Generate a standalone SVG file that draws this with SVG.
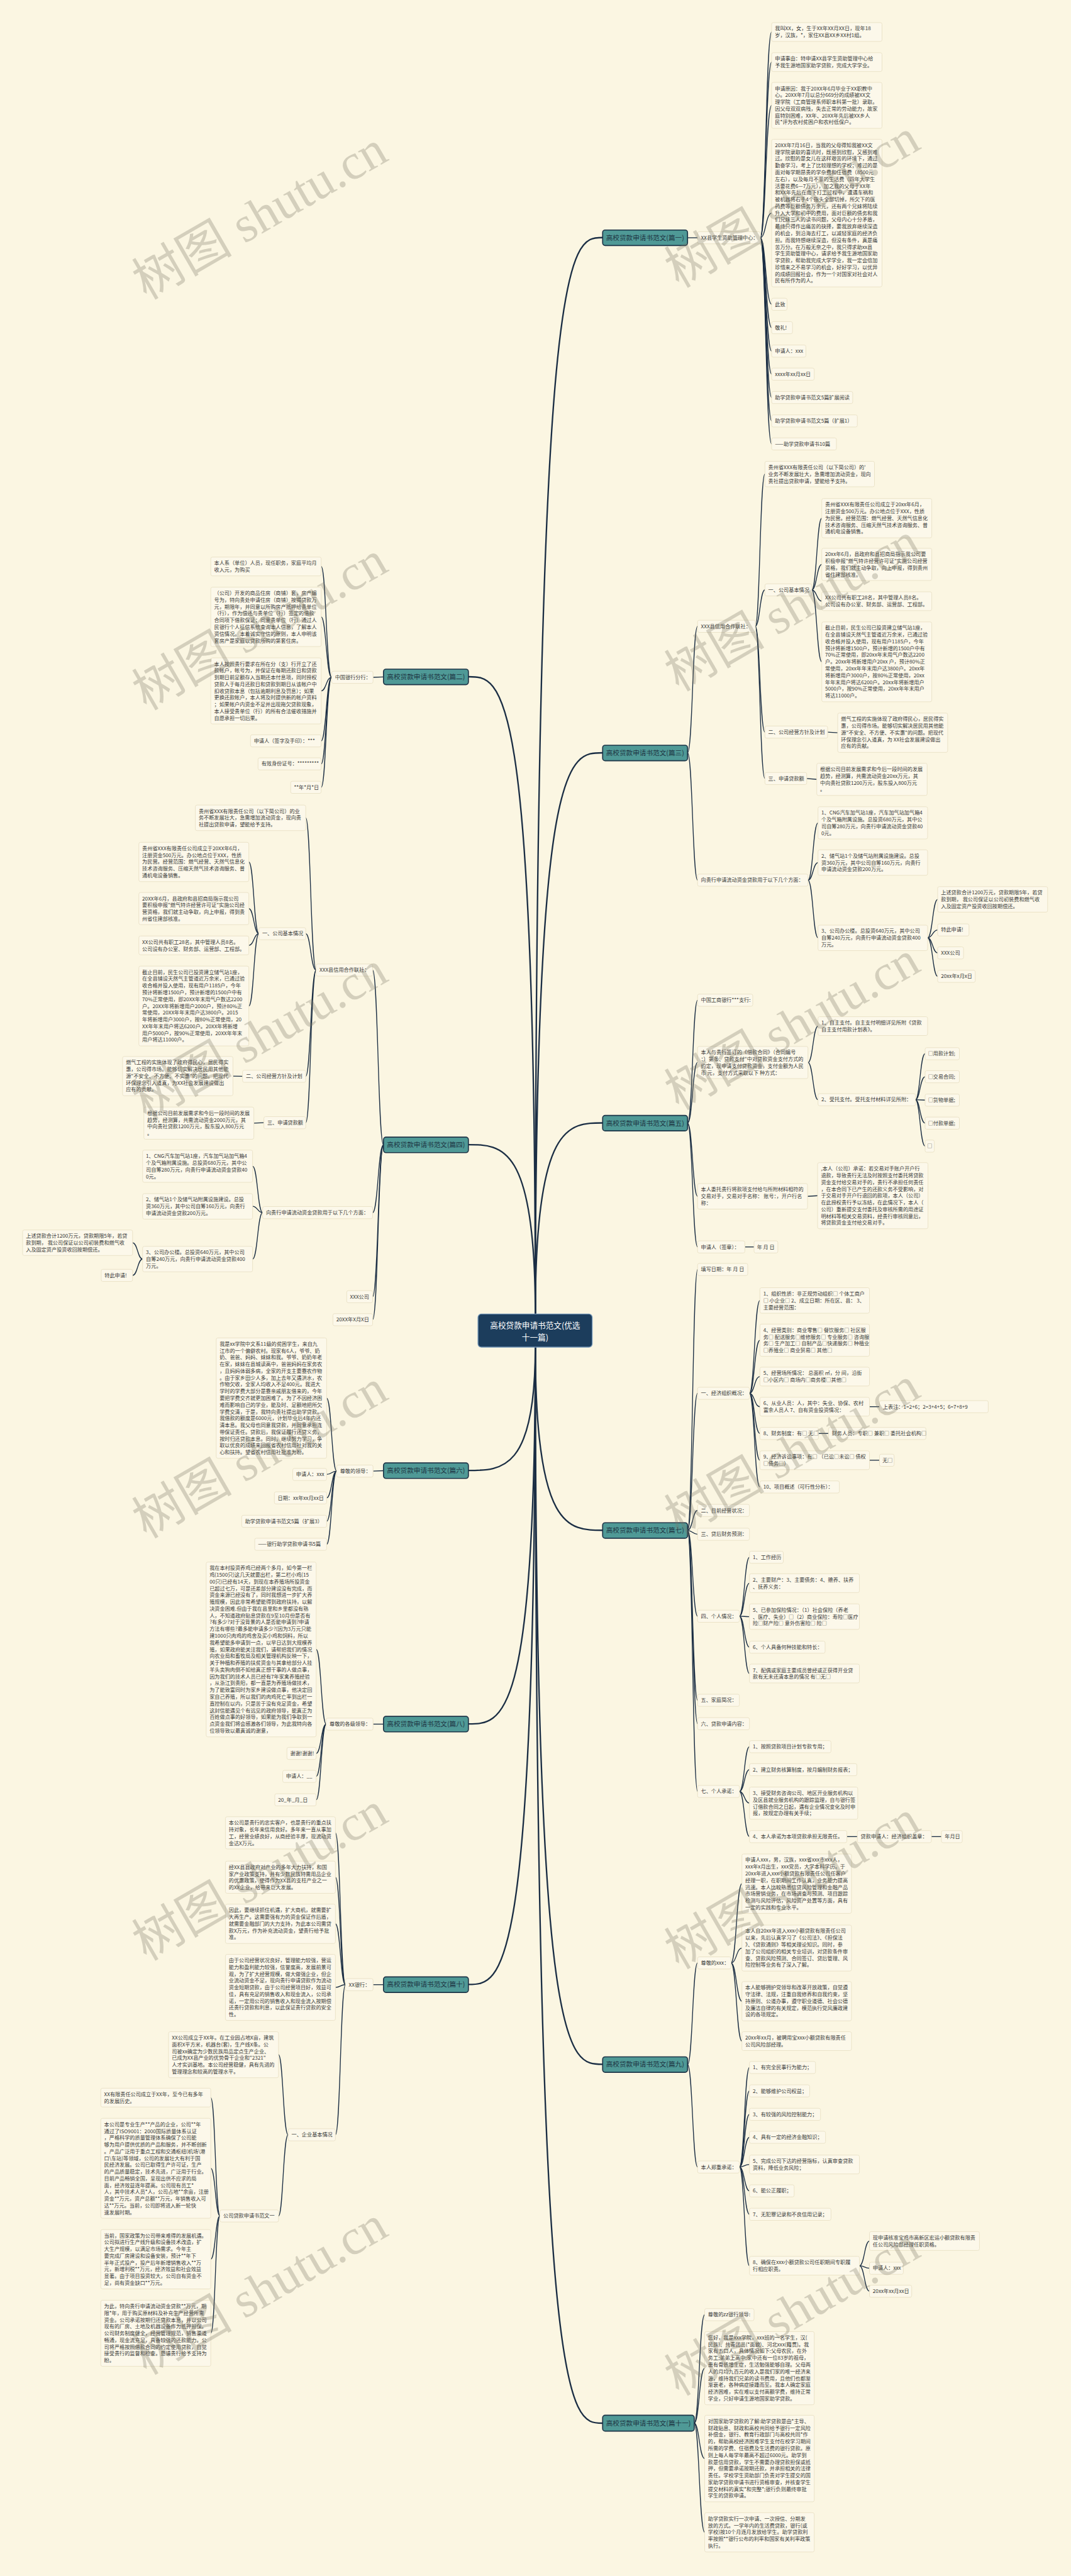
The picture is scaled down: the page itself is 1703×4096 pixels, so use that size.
<svg xmlns="http://www.w3.org/2000/svg" width="1703" height="4096" viewBox="0 0 1703 4096">
<style>
.bg{fill:#fbf6e2}
text{font-family:'Noto Sans CJK SC','Liberation Sans',sans-serif}
.b rect{fill:#fcf8ea;stroke:#ebe3c8;stroke-width:1.5}
.b text{font-size:12.3px;fill:#383838}
.m rect{fill:#4f9996;stroke:#1d3447;stroke-width:2.5}
.m text{font-size:16px;fill:#1d3442;text-anchor:middle}
.ct rect{fill:#1c3d5c;stroke:#6f93b5;stroke-width:2}
.ct text{font-size:19px;fill:#ffffff;text-anchor:middle}
.lk path{fill:none;stroke:#1b2e44;stroke-width:2}
.lk path.mk{stroke-width:3.5}
.wm text{font-family:'Liberation Serif','Noto Sans CJK SC',serif;font-size:120px;fill:#7c7866;opacity:.3}
</style>
<rect class="bg" width="1703" height="4096"/>
<g transform="scale(0.665)">
<g id="connectors" class="lk">
<path class="mk" d="M1280,3142 C1280,568 1360,568 1441,568"/>
<path class="mk" d="M1280,3142 C1280,1800 1360,1800 1441,1800"/>
<path class="mk" d="M1280,3142 C1280,2685 1360,2685 1441,2685"/>
<path class="mk" d="M1280,3142 C1280,1618 1200,1618 1120,1618"/>
<path class="mk" d="M1280,3142 C1280,2737 1200,2737 1120,2737"/>
<path class="mk" d="M1280,3221 C1280,3516 1200,3516 1120,3516"/>
<path class="mk" d="M1280,3221 C1280,3659 1360,3659 1441,3659"/>
<path class="mk" d="M1280,3221 C1280,4122 1200,4122 1120,4122"/>
<path class="mk" d="M1280,3221 C1280,4936 1360,4936 1441,4936"/>
<path class="mk" d="M1280,3221 C1280,4745 1200,4745 1120,4745"/>
<path class="mk" d="M1280,3221 C1280,5794 1360,5794 1441,5794"/>
<path d="M1644,568.5 L1668,568.5"/>
<path d="M1818,568.5 C1831,568.5 1831,76.5 1845,76.5"/>
<path d="M1818,568.5 C1831,568.5 1831,148.5 1845,148.5"/>
<path d="M1818,568.5 C1831,568.5 1831,252 1845,252"/>
<path d="M1818,568.5 C1831,568.5 1831,509.5 1845,509.5"/>
<path d="M1818,568.5 C1831,568.5 1831,727.5 1845,727.5"/>
<path d="M1818,568.5 C1831,568.5 1831,783.5 1845,783.5"/>
<path d="M1818,568.5 C1831,568.5 1831,839.5 1845,839.5"/>
<path d="M1818,568.5 C1831,568.5 1831,894.5 1845,894.5"/>
<path d="M1818,568.5 C1831,568.5 1831,950.5 1845,950.5"/>
<path d="M1818,568.5 C1831,568.5 1831,1006.5 1845,1006.5"/>
<path d="M1818,568.5 C1831,568.5 1831,1061.5 1845,1061.5"/>
<path d="M1644,1800 C1656,1800 1656,1497.5 1668,1497.5"/>
<path d="M1644,1800 C1656,1800 1656,2104.5 1668,2104.5"/>
<path d="M1806,1497.5 C1817,1497.5 1817,1133.5 1829,1133.5"/>
<path d="M1806,1497.5 C1817,1497.5 1817,1410.5 1829,1410.5"/>
<path d="M1806,1497.5 C1817,1497.5 1817,1750.5 1829,1750.5"/>
<path d="M1806,1497.5 C1817,1497.5 1817,1861.5 1829,1861.5"/>
<path d="M1941,1410.5 C1953,1410.5 1953,1239 1965,1239"/>
<path d="M1941,1410.5 C1953,1410.5 1953,1349.5 1965,1349.5"/>
<path d="M1941,1410.5 C1953,1410.5 1953,1437.5 1965,1437.5"/>
<path d="M1941,1410.5 C1953,1410.5 1953,1582.5 1965,1582.5"/>
<path d="M1979,1750.5 L2003,1752"/>
<path d="M1929,1861.5 L1953,1863.5"/>
<path d="M1932,2104.5 C1944,2104.5 1944,1967.5 1956,1967.5"/>
<path d="M1932,2104.5 C1944,2104.5 1944,2062.5 1956,2062.5"/>
<path d="M1932,2104.5 C1944,2104.5 1944,2242.5 1956,2242.5"/>
<path d="M2218,2242.5 C2230,2242.5 2230,2150.5 2242,2150.5"/>
<path d="M2218,2242.5 C2230,2242.5 2230,2223.5 2242,2223.5"/>
<path d="M2218,2242.5 C2230,2242.5 2230,2278.5 2242,2278.5"/>
<path d="M2218,2242.5 C2230,2242.5 2230,2334.5 2242,2334.5"/>
<path d="M1644,2685.5 C1656,2685.5 1656,2391.5 1668,2391.5"/>
<path d="M1644,2685.5 C1656,2685.5 1656,2540.5 1668,2540.5"/>
<path d="M1644,2685.5 C1656,2685.5 1656,2860.5 1668,2860.5"/>
<path d="M1644,2685.5 C1656,2685.5 1656,2981.5 1668,2981.5"/>
<path d="M1932,2540.5 C1944,2540.5 1944,2453.5 1956,2453.5"/>
<path d="M1932,2540.5 C1944,2540.5 1944,2629.5 1956,2629.5"/>
<path d="M2189,2629.5 C2200,2629.5 2200,2519.5 2212,2519.5"/>
<path d="M2189,2629.5 C2200,2629.5 2200,2574.5 2212,2574.5"/>
<path d="M2189,2629.5 L2212,2630.5"/>
<path d="M2189,2629.5 C2200,2629.5 2200,2685.5 2212,2685.5"/>
<path d="M2189,2629.5 C2200,2629.5 2200,2740.5 2212,2740.5"/>
<path d="M1931,2860.5 L1955,2859"/>
<path d="M1781,2981.5 L1803,2981.5"/>
<path d="M1644,3659.5 C1656,3659.5 1656,3035.5 1668,3035.5"/>
<path d="M1644,3659.5 C1656,3659.5 1656,3331.5 1668,3331.5"/>
<path d="M1644,3659.5 C1656,3659.5 1656,3611.5 1668,3611.5"/>
<path d="M1644,3659.5 C1656,3659.5 1656,3668.5 1668,3668.5"/>
<path d="M1644,3659.5 C1656,3659.5 1656,3864.5 1668,3864.5"/>
<path d="M1644,3659.5 C1656,3659.5 1656,4065.5 1668,4065.5"/>
<path d="M1644,3659.5 C1656,3659.5 1656,4121.5 1668,4121.5"/>
<path d="M1644,3659.5 C1656,3659.5 1656,4283.5 1668,4283.5"/>
<path d="M1792,3331.5 C1804,3331.5 1804,3109.5 1817,3109.5"/>
<path d="M1792,3331.5 C1804,3331.5 1804,3204.5 1817,3204.5"/>
<path d="M1792,3331.5 C1804,3331.5 1804,3291.5 1817,3291.5"/>
<path d="M1792,3331.5 C1804,3331.5 1804,3363.5 1817,3363.5"/>
<path d="M1792,3331.5 C1804,3331.5 1804,3427.5 1817,3427.5"/>
<path d="M1792,3331.5 C1804,3331.5 1804,3491.5 1817,3491.5"/>
<path d="M1792,3331.5 C1804,3331.5 1804,3555.5 1817,3555.5"/>
<path d="M2079,3363.5 L2103,3363.5"/>
<path d="M1957,3427.5 L1981,3427.5"/>
<path d="M2079,3491.5 L2103,3491.5"/>
<path d="M1768,3864.5 C1780,3864.5 1780,3723.5 1792,3723.5"/>
<path d="M1768,3864.5 C1780,3864.5 1780,3785.5 1792,3785.5"/>
<path d="M1768,3864.5 C1780,3864.5 1780,3865.5 1792,3865.5"/>
<path d="M1768,3864.5 C1780,3864.5 1780,3938.5 1792,3938.5"/>
<path d="M1768,3864.5 C1780,3864.5 1780,4001.5 1792,4001.5"/>
<path d="M1768,4283.5 C1780,4283.5 1780,4176.5 1792,4176.5"/>
<path d="M1768,4283.5 C1780,4283.5 1780,4231.5 1792,4231.5"/>
<path d="M1768,4283.5 C1780,4283.5 1780,4311.5 1792,4311.5"/>
<path d="M1768,4283.5 C1780,4283.5 1780,4391.5 1792,4391.5"/>
<path d="M2025,4391.5 L2050,4391.5"/>
<path d="M2227,4391.5 L2251,4391.5"/>
<path d="M1644,4936.5 C1656,4936.5 1656,4693.5 1668,4693.5"/>
<path d="M1644,4936.5 C1656,4936.5 1656,5181.5 1668,5181.5"/>
<path d="M1748,4693.5 C1761,4693.5 1761,4504 1774,4504"/>
<path d="M1748,4693.5 C1761,4693.5 1761,4658 1774,4658"/>
<path d="M1748,4693.5 C1761,4693.5 1761,4785 1774,4785"/>
<path d="M1748,4693.5 C1761,4693.5 1761,4880.5 1774,4880.5"/>
<path d="M1768,5181.5 C1780,5181.5 1780,4943.5 1792,4943.5"/>
<path d="M1768,5181.5 C1780,5181.5 1780,4999.5 1792,4999.5"/>
<path d="M1768,5181.5 C1780,5181.5 1780,5055.5 1792,5055.5"/>
<path d="M1768,5181.5 C1780,5181.5 1780,5110.5 1792,5110.5"/>
<path d="M1768,5181.5 C1780,5181.5 1780,5175.5 1792,5175.5"/>
<path d="M1768,5181.5 C1780,5181.5 1780,5238.5 1792,5238.5"/>
<path d="M1768,5181.5 C1780,5181.5 1780,5294.5 1792,5294.5"/>
<path d="M1768,5181.5 C1780,5181.5 1780,5417.5 1792,5417.5"/>
<path d="M2055,5417.5 C2067,5417.5 2067,5358.5 2079,5358.5"/>
<path d="M2055,5417.5 C2067,5417.5 2067,5423.5 2079,5423.5"/>
<path d="M2055,5417.5 C2067,5417.5 2067,5478.5 2079,5478.5"/>
<path d="M1660,5794 C1672,5794 1672,5534.5 1685,5534.5"/>
<path d="M1660,5794 C1672,5794 1672,5662.5 1685,5662.5"/>
<path d="M1660,5794 C1672,5794 1672,5878.5 1685,5878.5"/>
<path d="M1660,5794 C1672,5794 1672,6055 1685,6055"/>
<path d="M917,1618.5 L892,1619.5"/>
<path d="M793,1619.5 C780,1619.5 780,1354.5 768,1354.5"/>
<path d="M793,1619.5 C780,1619.5 780,1475 768,1475"/>
<path d="M793,1619.5 C780,1619.5 780,1652 768,1652"/>
<path d="M793,1619.5 C780,1619.5 780,1771.5 768,1771.5"/>
<path d="M793,1619.5 C780,1619.5 780,1826.5 768,1826.5"/>
<path d="M793,1619.5 C780,1619.5 780,1882.5 768,1882.5"/>
<path d="M917,2737.5 C904,2737.5 904,2319.5 891,2319.5"/>
<path d="M917,2737.5 C904,2737.5 904,2899.5 891,2899.5"/>
<path d="M917,2737.5 C904,2737.5 904,3100.5 891,3100.5"/>
<path d="M917,2737.5 C904,2737.5 904,3155.5 891,3155.5"/>
<path d="M756,2319.5 C743,2319.5 743,1955.5 731,1955.5"/>
<path d="M756,2319.5 C743,2319.5 743,2232.5 731,2232.5"/>
<path d="M756,2319.5 C743,2319.5 743,2573.5 731,2573.5"/>
<path d="M756,2319.5 C743,2319.5 743,2684.5 731,2684.5"/>
<path d="M619,2232.5 C607,2232.5 607,2061 595,2061"/>
<path d="M619,2232.5 C607,2232.5 607,2172.5 595,2172.5"/>
<path d="M619,2232.5 C607,2232.5 607,2260.5 595,2260.5"/>
<path d="M619,2232.5 C607,2232.5 607,2405.5 595,2405.5"/>
<path d="M580,2573.5 L557,2573"/>
<path d="M631,2684.5 L607,2685.5"/>
<path d="M628,2899.5 C616,2899.5 616,2788.5 604,2788.5"/>
<path d="M628,2899.5 C616,2899.5 616,2884.5 604,2884.5"/>
<path d="M628,2899.5 C616,2899.5 616,3010.5 604,3010.5"/>
<path d="M341,3010.5 C329,3010.5 329,2971.5 317,2971.5"/>
<path d="M341,3010.5 C329,3010.5 329,3049.5 317,3049.5"/>
<path d="M917,3516.5 L892,3517.5"/>
<path d="M805,3517.5 C793,3517.5 793,3343 781,3343"/>
<path d="M805,3517.5 C793,3517.5 793,3525.5 781,3525.5"/>
<path d="M805,3517.5 C793,3517.5 793,3581.5 781,3581.5"/>
<path d="M805,3517.5 C793,3517.5 793,3637.5 781,3637.5"/>
<path d="M805,3517.5 C793,3517.5 793,3692.5 781,3692.5"/>
<path d="M917,4122.5 L892,4122.5"/>
<path d="M780,4122.5 C768,4122.5 768,3944 756,3944"/>
<path d="M780,4122.5 C768,4122.5 768,4192.5 756,4192.5"/>
<path d="M780,4122.5 C768,4122.5 768,4247.5 756,4247.5"/>
<path d="M780,4122.5 C768,4122.5 768,4303.5 756,4303.5"/>
<path d="M917,4745.5 L892,4745.5"/>
<path d="M826,4745.5 C814,4745.5 814,4382.5 802,4382.5"/>
<path d="M826,4745.5 C814,4745.5 814,4488.5 802,4488.5"/>
<path d="M826,4745.5 C814,4745.5 814,4600 802,4600"/>
<path d="M826,4745.5 C814,4745.5 814,4752 802,4752"/>
<path d="M826,4745.5 C814,4745.5 814,5104.5 802,5104.5"/>
<path d="M689,5104.5 C677,5104.5 677,4913 666,4913"/>
<path d="M689,5104.5 C677,5104.5 677,5298.5 666,5298.5"/>
<path d="M526,5298.5 C515,5298.5 515,5015.5 504,5015.5"/>
<path d="M526,5298.5 C515,5298.5 515,5184.5 504,5184.5"/>
<path d="M526,5298.5 C515,5298.5 515,5402 504,5402"/>
<path d="M526,5298.5 C515,5298.5 515,5579 504,5579"/>
</g>

<g id="central" class="ct"><rect x="1143" y="3142" width="273" height="79" rx="8"/><text x="1279.5" y="3176">高校贷款申请书范文(优选</text><text x="1279.5" y="3204">十一篇)</text></g>

<g id="p1" class="m"><rect x="1441" y="550" width="203" height="37" rx="6"/><text x="1542.5" y="574">高校贷款申请书范文(篇一)</text></g>
<g id="p2" class="m"><rect x="917" y="1600" width="203" height="37" rx="6"/><text x="1018.5" y="1624">高校贷款申请书范文(篇二)</text></g>
<g id="p3" class="m"><rect x="1441" y="1782" width="203" height="37" rx="6"/><text x="1542.5" y="1806">高校贷款申请书范文(篇三)</text></g>
<g id="p4" class="m"><rect x="917" y="2719" width="203" height="37" rx="6"/><text x="1018.5" y="2743">高校贷款申请书范文(篇四)</text></g>
<g id="p5" class="m"><rect x="1441" y="2667" width="203" height="37" rx="6"/><text x="1542.5" y="2691">高校贷款申请书范文(篇五)</text></g>
<g id="p6" class="m"><rect x="917" y="3498" width="203" height="37" rx="6"/><text x="1018.5" y="3522">高校贷款申请书范文(篇六)</text></g>
<g id="p7" class="m"><rect x="1441" y="3641" width="203" height="37" rx="6"/><text x="1542.5" y="3665">高校贷款申请书范文(篇七)</text></g>
<g id="p8" class="m"><rect x="917" y="4104" width="203" height="37" rx="6"/><text x="1018.5" y="4128">高校贷款申请书范文(篇八)</text></g>
<g id="p9" class="m"><rect x="1441" y="4918" width="203" height="37" rx="6"/><text x="1542.5" y="4942">高校贷款申请书范文(篇九)</text></g>
<g id="p10" class="m"><rect x="917" y="4727" width="203" height="37" rx="6"/><text x="1018.5" y="4751">高校贷款申请书范文(篇十)</text></g>
<g id="p11" class="m"><rect x="1441" y="5775" width="219" height="38" rx="6"/><text x="1550.5" y="5800">高校贷款申请书范文(篇十一)</text></g>

<g id="b1" class="b">
<g id="b1-c"><rect x="1668" y="554" width="150" height="29" rx="4"/><text x="1676" y="572.8">XX县学生资助管理中心：</text></g>
<g id="b1-1"><rect x="1845" y="54" width="264" height="45" rx="4"/><text x="1853" y="72.8"><tspan x="1853">我叫XX，女，生于XX年XX月XX日，现年18</tspan><tspan x="1853" dy="16.2">岁，汉族，*，家住XX县XX乡XX村1组。</tspan></text></g>
<g id="b1-2"><rect x="1845" y="126" width="264" height="45" rx="4"/><text x="1853" y="144.8"><tspan x="1853">申请事由：特申请XX县学生资助管理中心给</tspan><tspan x="1853" dy="16.2">予我生源地国家助学贷款，完成大学学业。</tspan></text></g>
<g id="b1-3"><rect x="1845" y="197" width="264" height="110" rx="4"/><text x="1853" y="215.8"><tspan x="1853">申请原因：我于20XX年6月毕业于XX职教中</tspan><tspan x="1853" dy="16.2">心。20XX年7月以总分669分的成绩被XX文</tspan><tspan x="1853" dy="16.2">理学院（工商管理系师职本科第一批）录取。</tspan><tspan x="1853" dy="16.2">因父母双双病残，失去正常的劳动能力，故家</tspan><tspan x="1853" dy="16.2">庭特别困难，XX年、20XX年先后被XX乡人</tspan><tspan x="1853" dy="16.2">民*评为农村贫困户和农村低保户。</tspan></text></g>
<g id="b1-4"><rect x="1845" y="333" width="264" height="353" rx="4"/><text x="1853" y="351.8"><tspan x="1853">20XX年7月16日，当我的父母得知我被XX文</tspan><tspan x="1853" dy="16.2">理学院录取的喜讯时，既感到欣慰，又感到难</tspan><tspan x="1853" dy="16.2">过。欣慰的是女儿在这样艰苦的环境下，通过</tspan><tspan x="1853" dy="16.2">勤奋学习，考上了比较理想的学校；难过的是</tspan><tspan x="1853" dy="16.2">面对每学期昂贵的学杂费和住宿费（8500元</tspan><tspan x="1853" dy="16.2">左右），以及每月不菲的生活费（四年大学生</tspan><tspan x="1853" dy="16.2">活要花费6—7万元），加之我的父母于XX年</tspan><tspan x="1853" dy="16.2">和XX年先后在南下打工过程中，遭遇车祸和</tspan><tspan x="1853" dy="16.2">被机器将右手4个指头全部切掉，所欠下的医</tspan><tspan x="1853" dy="16.2">药费等巨额债务万余元，还有两个兄妹将陆续</tspan><tspan x="1853" dy="16.2">升入大学和初中的费用，面对巨额的债务和我</tspan><tspan x="1853" dy="16.2">们兄妹三人的读书问题，父母内心十分矛盾，</tspan><tspan x="1853" dy="16.2">最终只得作出痛苦的抉择，要我放弃继续深造</tspan><tspan x="1853" dy="16.2">的机会，到沿海去打工，以减轻家庭的经济负</tspan><tspan x="1853" dy="16.2">担。而我特想继续深造，但没有条件，真是痛</tspan><tspan x="1853" dy="16.2">苦万分。在万般无奈之中，我只得求助xx县</tspan><tspan x="1853" dy="16.2">学生资助管理中心，请求给予我生源地国家助</tspan><tspan x="1853" dy="16.2">学贷款，帮助我完成大学学业，我一定会倍加</tspan><tspan x="1853" dy="16.2">珍惜来之不易学习的机会，好好学习，以优异</tspan><tspan x="1853" dy="16.2">的成绩回报社会，作为一个对国家对社会对人</tspan><tspan x="1853" dy="16.2">民有所作为的人。</tspan></text></g>
<g id="b1-5"><rect x="1845" y="713" width="37" height="29" rx="4"/><text x="1853" y="731.8">此致</text></g>
<g id="b1-6"><rect x="1845" y="769" width="50" height="29" rx="4"/><text x="1853" y="787.8">敬礼!</text></g>
<g id="b1-7"><rect x="1845" y="825" width="82" height="29" rx="4"/><text x="1853" y="843.8">申请人：xxx</text></g>
<g id="b1-8"><rect x="1845" y="880" width="102" height="29" rx="4"/><text x="1853" y="898.8">xxxx年xx月xx日</text></g>
<g id="b1-9"><rect x="1845" y="936" width="194" height="29" rx="4"/><text x="1853" y="954.8">助学贷款申请书范文5篇扩展阅读</text></g>
<g id="b1-10"><rect x="1845" y="992" width="205" height="29" rx="4"/><text x="1853" y="1010.8">助学贷款申请书范文5篇（扩展1）</text></g>
<g id="b1-11"><rect x="1845" y="1047" width="155" height="29" rx="4"/><text x="1853" y="1065.8">——助学贷款申请书10篇</text></g>
</g>

<g id="b3" class="b">
<g id="b3-c1"><rect x="1668" y="1483" width="138" height="29" rx="4"/><text x="1676" y="1501.8">XXX县信用合作联社：</text></g>
<g id="b3-c2"><rect x="1668" y="2090" width="264" height="29" rx="4"/><text x="1676" y="2108.8">向贵行申请流动资金贷款用于以下几个方面：</text></g>
<g id="b3-a"><rect x="1829" y="1103" width="262" height="61" rx="4"/><text x="1837" y="1121.8"><tspan x="1837">贵州省XXX有限责任公司（以下简公司）的'</tspan><tspan x="1837" dy="16.2">业务不断发展壮大，急需增加流动资金，现向</tspan><tspan x="1837" dy="16.2">贵社提出贷款申请，望能给予支持。</tspan></text></g>
<g id="b3-b"><rect x="1829" y="1396" width="112" height="29" rx="4"/><text x="1837" y="1414.8">一、公司基本情况</text></g>
<g id="b3-b1"><rect x="1965" y="1192" width="263" height="94" rx="4"/><text x="1973" y="1210.8"><tspan x="1973">贵州省XXX有限责任公司成立于20xx年6月，</tspan><tspan x="1973" dy="16.2">注册资金500万元。办公地点位于XXX，性质</tspan><tspan x="1973" dy="16.2">为民营。经营范围：燃气经营、天然气信息化</tspan><tspan x="1973" dy="16.2">技术咨询服务、压缩天然气技术咨询服务、普</tspan><tspan x="1973" dy="16.2">通机电设备销售。</tspan></text></g>
<g id="b3-b2"><rect x="1965" y="1311" width="263" height="77" rx="4"/><text x="1973" y="1329.8"><tspan x="1973">20xx年6月，县政府和县招商局指示我公司要</tspan><tspan x="1973" dy="16.2">积极申报"燃气特许经营许可证"实施公司经营</tspan><tspan x="1973" dy="16.2">资格，我们就主动争取，向上申报，得到贵州</tspan><tspan x="1973" dy="16.2">省住建部核准。</tspan></text></g>
<g id="b3-b3"><rect x="1965" y="1415" width="263" height="45" rx="4"/><text x="1973" y="1433.8"><tspan x="1973">XX公司共有职工28名，其中管理人员8名。</tspan><tspan x="1973" dy="16.2">公司设有办公室、财务部、运营部、工程部。</tspan></text></g>
<g id="b3-b4"><rect x="1965" y="1487" width="263" height="191" rx="4"/><text x="1973" y="1505.8"><tspan x="1973">截止目前，民生公司已投资建立储气站1座，</tspan><tspan x="1973" dy="16.2">在全县铺设天然气主管道近万余米，已通过验</tspan><tspan x="1973" dy="16.2">收合格并投入使用，现有用户1185户，今年</tspan><tspan x="1973" dy="16.2">预计将新增1500户，预计新增的1500户中有</tspan><tspan x="1973" dy="16.2">70%正常使用，即20xx年末用气户数达2200</tspan><tspan x="1973" dy="16.2">户。20xx年将新增用户20xx 户，预计80%正</tspan><tspan x="1973" dy="16.2">常使用，20xx年年末用户达3800户。20xx年</tspan><tspan x="1973" dy="16.2">将新增用户3000户，按80%正常使用，20xx</tspan><tspan x="1973" dy="16.2">年年末用户将达6200户。20xx年将新增用户</tspan><tspan x="1973" dy="16.2">5000户，按90%正常使用，20xx年年末用户</tspan><tspan x="1973" dy="16.2">将达11000户。</tspan></text></g>
<g id="b3-c"><rect x="1829" y="1736" width="150" height="29" rx="4"/><text x="1837" y="1754.8">二、公司经营方针及计划</text></g>
<g id="b3-c1l"><rect x="2003" y="1705" width="263" height="94" rx="4"/><text x="2011" y="1723.8"><tspan x="2011">燃气工程的实施体现了政府得民心，居民得实</tspan><tspan x="2011" dy="16.2">惠，公司得市场。能够切实解决居民用其他能</tspan><tspan x="2011" dy="16.2">源"不安全、不方便、不实惠"的问题。把现代</tspan><tspan x="2011" dy="16.2">环保理念引入道真，为 XX社会发展建设做出</tspan><tspan x="2011" dy="16.2">应有的贡献。</tspan></text></g>
<g id="b3-d"><rect x="1829" y="1847" width="100" height="29" rx="4"/><text x="1837" y="1865.8">三、申请贷款额</text></g>
<g id="b3-d1"><rect x="1953" y="1825" width="264" height="77" rx="4"/><text x="1961" y="1843.8"><tspan x="1961">根据公司目前发展需求和今后一段时间的发展</tspan><tspan x="1961" dy="16.2">趋势，经测算，共需流动资金20xx万元，其</tspan><tspan x="1961" dy="16.2">中向贵社贷款1200万元，股东投入800万元</tspan><tspan x="1961" dy="16.2">。</tspan></text></g>
<g id="b3-e1"><rect x="1956" y="1929" width="262" height="77" rx="4"/><text x="1964" y="1947.8"><tspan x="1964">1、CNG汽车加气站1座，汽车加气站加气箱4</tspan><tspan x="1964" dy="16.2">个及气箱附属设施。总投资680万元，其中公</tspan><tspan x="1964" dy="16.2">司自筹280万元，向贵行申请流动资金贷款40</tspan><tspan x="1964" dy="16.2">0元。</tspan></text></g>
<g id="b3-e2"><rect x="1956" y="2032" width="262" height="61" rx="4"/><text x="1964" y="2050.8"><tspan x="1964">2、储气站1个及储气站附属设施建设。总投</tspan><tspan x="1964" dy="16.2">资360万元，其中公司自筹160万元，向贵行</tspan><tspan x="1964" dy="16.2">申请流动资金贷款200万元。</tspan></text></g>
<g id="b3-e3"><rect x="1956" y="2212" width="262" height="61" rx="4"/><text x="1964" y="2230.8"><tspan x="1964">3、公司办公楼。总投资640万元，其中公司</tspan><tspan x="1964" dy="16.2">自筹240万元，向贵行申请流动资金贷款400</tspan><tspan x="1964" dy="16.2">万元。</tspan></text></g>
<g id="b3-f1"><rect x="2242" y="2120" width="263" height="61" rx="4"/><text x="2250" y="2138.8"><tspan x="2250">上述贷款合计1200万元，贷款期限5年，若贷</tspan><tspan x="2250" dy="16.2">款到期， 我公司保证以公司初装费和燃气收</tspan><tspan x="2250" dy="16.2">入及固定资产投资收回按期偿还。</tspan></text></g>
<g id="b3-f2"><rect x="2242" y="2209" width="75" height="29" rx="4"/><text x="2250" y="2227.8">特此申请!</text></g>
<g id="b3-f3"><rect x="2242" y="2264" width="62" height="29" rx="4"/><text x="2250" y="2282.8">XXX公司</text></g>
<g id="b3-f4"><rect x="2242" y="2320" width="90" height="29" rx="4"/><text x="2250" y="2338.8">20xx年x月x日</text></g>
</g>

<g id="b5" class="b">
<g id="b5-c1"><rect x="1668" y="2377" width="132" height="29" rx="4"/><text x="1676" y="2395.8">中国工商银行***支行:</text></g>
<g id="b5-c2"><rect x="1668" y="2502" width="264" height="77" rx="4"/><text x="1676" y="2520.8"><tspan x="1676">本人与贵行签订的《借款合同》（合同编号</tspan><tspan x="1676" dy="16.2">：）第条、贷款支付"中对贷款资金支付方式的</tspan><tspan x="1676" dy="16.2">约定，现申请支付贷款资金，支付金额为人民</tspan><tspan x="1676" dy="16.2">币 元，支付方式采取以下 种方式：</tspan></text></g>
<g id="b5-a"><rect x="1956" y="2431" width="262" height="45" rx="4"/><text x="1964" y="2449.8"><tspan x="1964">1、自主支付。自主支付明细详见所附《贷款</tspan><tspan x="1964" dy="16.2">自主支付用款计划表》。</tspan></text></g>
<g id="b5-b"><rect x="1956" y="2615" width="233" height="29" rx="4"/><text x="1964" y="2633.8">2、受托支付。受托支付材料详见所附：</text></g>
<g id="b5-b1"><rect x="2212" y="2505" width="82" height="29" rx="4"/><text x="2219" y="2523.8">□用款计划;</text></g>
<g id="b5-b2"><rect x="2212" y="2560" width="82" height="29" rx="4"/><text x="2219" y="2578.8">□交易合同;</text></g>
<g id="b5-b3"><rect x="2212" y="2616" width="82" height="29" rx="4"/><text x="2219" y="2634.8">□货物单据;</text></g>
<g id="b5-b4"><rect x="2212" y="2671" width="82" height="29" rx="4"/><text x="2219" y="2689.8">□付款单据;</text></g>
<g id="b5-b5"><rect x="2212" y="2726" width="22" height="29" rx="4"/><text x="2217" y="2744.8">□</text></g>
<g id="b5-c3"><rect x="1668" y="2830" width="263" height="61" rx="4"/><text x="1676" y="2848.8"><tspan x="1676">本人委托贵行将款项支付给与所附材料相符的</tspan><tspan x="1676" dy="16.2">交易对手，交易对手名称： 账号：，开户行名</tspan><tspan x="1676" dy="16.2">称：</tspan></text></g>
<g id="b5-c3a"><rect x="1955" y="2780" width="264" height="158" rx="4"/><text x="1963" y="2798.8"><tspan x="1963">,本人（公司）承诺：若交易对手账户开户行</tspan><tspan x="1963" dy="16.2">退款，导致贵行无法及时按照支付委托将贷款</tspan><tspan x="1963" dy="16.2">资金支付给交易对手的，贵行不承担任何责任</tspan><tspan x="1963" dy="16.2">，在本合同下已产生的还款义务不受影响，对</tspan><tspan x="1963" dy="16.2">于交易对手开户行退回的款项，本人（公司）</tspan><tspan x="1963" dy="16.2">在此授权贵行予以冻结，在此情况下，本人（</tspan><tspan x="1963" dy="16.2">公司）重新提交支付委托及审核所需的用途证</tspan><tspan x="1963" dy="16.2">明材料等相关交易资料，经贵行审核同意后，</tspan><tspan x="1963" dy="16.2">将贷款资金支付给交易对手。</tspan></text></g>
<g id="b5-c4"><rect x="1668" y="2967" width="113" height="29" rx="4"/><text x="1676" y="2985.8">申请人（签章）：</text></g>
<g id="b5-c4a"><rect x="1803" y="2967" width="57" height="29" rx="4"/><text x="1810" y="2985.8">年 月 日</text></g>
</g>

<g id="b7" class="b">
<g><rect x="1668" y="3021" width="120" height="29" rx="4"/><text x="1676" y="3039.8">填写日期：年 月 日</text></g>
<g><rect x="1668" y="3317" width="124" height="29" rx="4"/><text x="1676" y="3335.8">一、经济组织概况：</text></g>
<g><rect x="1668" y="3597" width="124" height="29" rx="4"/><text x="1676" y="3615.8">二、目前经营状况：</text></g>
<g><rect x="1668" y="3654" width="124" height="29" rx="4"/><text x="1676" y="3672.8">三、贷后财务预测：</text></g>
<g><rect x="1668" y="3850" width="100" height="29" rx="4"/><text x="1676" y="3868.8">四、个人情况：</text></g>
<g><rect x="1668" y="4051" width="100" height="29" rx="4"/><text x="1676" y="4069.8">五、家庭简况：</text></g>
<g><rect x="1668" y="4107" width="124" height="29" rx="4"/><text x="1676" y="4125.8">六、贷款申请内容：</text></g>
<g><rect x="1668" y="4269" width="100" height="29" rx="4"/><text x="1676" y="4287.8">七、个人承诺：</text></g>
<g><rect x="1817" y="3079" width="262" height="61" rx="4"/><text x="1825" y="3097.8"><tspan x="1825">1、组织性质：非正规劳动组织□ 个体工商户</tspan><tspan x="1825" dy="16.2">□ 小企业□ 2、成立日期：所在区、县： 3、</tspan><tspan x="1825" dy="16.2">主要经营范围：</tspan></text></g>
<g><rect x="1817" y="3166" width="262" height="77" rx="4"/><text x="1825" y="3184.8"><tspan x="1825">4、经营类别：商业零售□ 餐饮服务□ 社区服</tspan><tspan x="1825" dy="16.2">务□ 配送服务□维修服务□ 专业服务□ 咨询服</tspan><tspan x="1825" dy="16.2">务□ 生产加工□ 自制产品□快递服务□ 种植业</tspan><tspan x="1825" dy="16.2">□养殖业□ 商业贸易□ 其他□</tspan></text></g>
<g><rect x="1817" y="3269" width="262" height="45" rx="4"/><text x="1825" y="3287.8"><tspan x="1825">5、经营场所情况： 总面积 ㎡，分 间，沿街</tspan><tspan x="1825" dy="16.2">□小区内□ 商场内□商务楼□其他□</tspan></text></g>
<g><rect x="1817" y="3341" width="262" height="45" rx="4"/><text x="1825" y="3359.8"><tspan x="1825">6、从业人员：人，其中：失业、协保、农村</tspan><tspan x="1825" dy="16.2">富余人员人 7、自有资金投资情况：</tspan></text></g>
<g><rect x="2103" y="3349" width="260" height="29" rx="4"/><text x="2111" y="3367.8">上表注：1=2+6；2=3+4+5；6=7+8+9</text></g>
<g><rect x="1817" y="3413" width="140" height="29" rx="4"/><text x="1825" y="3431.8">8、财务制度：有□ 无□</text></g>
<g><rect x="1981" y="3413" width="233" height="29" rx="4"/><text x="1989" y="3431.8">财务人员：专职□ 兼职□ 委托社会机构□</text></g>
<g><rect x="1817" y="3469" width="262" height="45" rx="4"/><text x="1825" y="3487.8"><tspan x="1825">9、经济诉讼事项：有□ （已讼□未讼□ 债权</tspan><tspan x="1825" dy="16.2">□债务□）</tspan></text></g>
<g><rect x="2103" y="3477" width="35" height="29" rx="4"/><text x="2110" y="3495.8">无□</text></g>
<g><rect x="1817" y="3541" width="190" height="29" rx="4"/><text x="1825" y="3559.8">10、项目概述（可行性分析）：</text></g>
<g><rect x="1792" y="3709" width="81" height="29" rx="4"/><text x="1800" y="3727.8">1、工作经历</text></g>
<g><rect x="1792" y="3763" width="263" height="45" rx="4"/><text x="1800" y="3781.8"><tspan x="1800">2、主要财产：3、主要债务：4、赡养、扶养</tspan><tspan x="1800" dy="16.2">、抚养义务：</tspan></text></g>
<g><rect x="1792" y="3835" width="263" height="61" rx="4"/><text x="1800" y="3853.8"><tspan x="1800">5、已参加保险情况：（1）社会保险（养老</tspan><tspan x="1800" dy="16.2">、医疗、失业）□（2）商业保险：寿险□医疗</tspan><tspan x="1800" dy="16.2">险□财产险□ 意外伤害险□ 险□</tspan></text></g>
<g><rect x="1792" y="3924" width="181" height="29" rx="4"/><text x="1800" y="3942.8">6、个人具备何种技能和特长：</text></g>
<g><rect x="1792" y="3979" width="263" height="45" rx="4"/><text x="1800" y="3997.8"><tspan x="1800">7、配偶或家庭主要成员曾经或正获得开业贷</tspan><tspan x="1800" dy="16.2">款有无未还清本息的情况 有□无□</tspan></text></g>
<g><rect x="1792" y="4162" width="195" height="29" rx="4"/><text x="1800" y="4180.8">1、按照贷款项目计划专款专用；</text></g>
<g><rect x="1792" y="4217" width="257" height="29" rx="4"/><text x="1800" y="4235.8">2、建立财务核算制度，按月编制财务报表；</text></g>
<g><rect x="1792" y="4273" width="259" height="77" rx="4"/><text x="1800" y="4291.8"><tspan x="1800">3、接受财务咨询公司、地区开业服务机构以</tspan><tspan x="1800" dy="16.2">及区县就业服务机构的跟踪监理，自与银行签</tspan><tspan x="1800" dy="16.2">订借款合同之日起，遇有企业情况变化及时申</tspan><tspan x="1800" dy="16.2">报，按规定办理有关手续；</tspan></text></g>
<g><rect x="1792" y="4377" width="233" height="29" rx="4"/><text x="1800" y="4395.8">4、本人承诺为本项贷款承担无限责任。</text></g>
<g><rect x="2050" y="4377" width="177" height="29" rx="4"/><text x="2058" y="4395.8">贷款申请人：经济组织盖章：</text></g>
<g><rect x="2251" y="4377" width="50" height="29" rx="4"/><text x="2259" y="4395.8">年月日</text></g>
</g>

<g id="b9" class="b">
<g><rect x="1668" y="4679" width="80" height="29" rx="4"/><text x="1676" y="4697.8">尊敬的xxx：</text></g>
<g><rect x="1668" y="5167" width="100" height="29" rx="4"/><text x="1676" y="5185.8">本人郑重承诺：</text></g>
<g><rect x="1774" y="4433" width="262" height="142" rx="4"/><text x="1782" y="4451.8"><tspan x="1782">申请人xxx，男，汉族，xxx省xxx市xxx人，</tspan><tspan x="1782" dy="16.2">xxx年x月出生，xxx党员，大学本科学历。于</tspan><tspan x="1782" dy="16.2">20xx年进入xxx小额贷款有限责任公司任客户</tspan><tspan x="1782" dy="16.2">经理一职，在职期间工作认真，业务能力提高</tspan><tspan x="1782" dy="16.2">迅速。本人比较熟悉信贷风险管理和金融产品</tspan><tspan x="1782" dy="16.2">市场营销业务，在市场调查与预测、项目跟踪</tspan><tspan x="1782" dy="16.2">检测与风险评估，风险资产处置等方面，具有</tspan><tspan x="1782" dy="16.2">一定的实践和专业水平。</tspan></text></g>
<g><rect x="1774" y="4603" width="262" height="110" rx="4"/><text x="1782" y="4621.8"><tspan x="1782">本人自20xx年进入xxx小额贷款有限责任公司</tspan><tspan x="1782" dy="16.2">以来，先后认真学习了《公司法》、《担保法</tspan><tspan x="1782" dy="16.2">》、《贷款通则》等相关理论知识。同时，参</tspan><tspan x="1782" dy="16.2">加了公司组织的相关专业培训，对贷款条件审</tspan><tspan x="1782" dy="16.2">查、贷款风险预测、合同签订、贷后管理、风</tspan><tspan x="1782" dy="16.2">险控制等业务有了深入了解。</tspan></text></g>
<g><rect x="1774" y="4738" width="262" height="94" rx="4"/><text x="1782" y="4756.8"><tspan x="1782">本人能够拥护党领导和改革开放政策，自觉遵</tspan><tspan x="1782" dy="16.2">守法律、法规，注重自我修养和自我约束，坚</tspan><tspan x="1782" dy="16.2">持原则、公道办事，遵守职业道德、社会公德</tspan><tspan x="1782" dy="16.2">及廉洁自律的有关规定，模范执行党风廉政建</tspan><tspan x="1782" dy="16.2">设的各项规定。</tspan></text></g>
<g><rect x="1774" y="4858" width="262" height="45" rx="4"/><text x="1782" y="4876.8"><tspan x="1782">20xx年xx月，被聘用宝xxx小额贷款有限责任</tspan><tspan x="1782" dy="16.2">公司风险部经理。</tspan></text></g>
<g><rect x="1792" y="4929" width="158" height="29" rx="4"/><text x="1800" y="4947.8">1、有完全民事行为能力；</text></g>
<g><rect x="1792" y="4985" width="144" height="29" rx="4"/><text x="1800" y="5003.8">2、能够维护公司权益；</text></g>
<g><rect x="1792" y="5041" width="170" height="29" rx="4"/><text x="1800" y="5059.8">3、有较强的风险控制能力；</text></g>
<g><rect x="1792" y="5096" width="182" height="29" rx="4"/><text x="1800" y="5114.8">4、具有一定的经济金融知识；</text></g>
<g><rect x="1792" y="5153" width="263" height="45" rx="4"/><text x="1800" y="5171.8"><tspan x="1800">5、完成公司下达的经营指标，认真审查贷款</tspan><tspan x="1800" dy="16.2">资料，降低业务风险；</tspan></text></g>
<g><rect x="1792" y="5224" width="107" height="29" rx="4"/><text x="1800" y="5242.8">6、能公正履职；</text></g>
<g><rect x="1792" y="5280" width="195" height="29" rx="4"/><text x="1800" y="5298.8">7、无犯罪记录和不良信用记录；</text></g>
<g><rect x="1792" y="5395" width="263" height="45" rx="4"/><text x="1800" y="5413.8"><tspan x="1800">8、确保在xxx小额贷款公司任职期间专职履</tspan><tspan x="1800" dy="16.2">行相应职责。</tspan></text></g>
<g><rect x="2079" y="5336" width="263" height="45" rx="4"/><text x="2087" y="5354.8"><tspan x="2087">现申请核准宝鸡市高新区宏运小额贷款有限责</tspan><tspan x="2087" dy="16.2">任公司风险部经理任职资格。</tspan></text></g>
<g><rect x="2079" y="5409" width="81" height="29" rx="4"/><text x="2087" y="5427.8">申请人：xxx</text></g>
<g><rect x="2079" y="5464" width="101" height="29" rx="4"/><text x="2087" y="5482.8">20xx年xx月xx日</text></g>
</g>

<g id="b11" class="b">
<g><rect x="1685" y="5520" width="118" height="29" rx="4"/><text x="1693" y="5538.8">尊敬的zz银行领导:</text></g>
<g><rect x="1685" y="5575" width="262" height="175" rx="4"/><text x="1693" y="5593.8"><tspan x="1693"> 您好，我是xxx学院，xxx班的一名学生，汉(</tspan><tspan x="1693" dy="16.2">民族)、共青团员(*面貌)、河北xxx(籍贯)。我</tspan><tspan x="1693" dy="16.2">家有五口人，具体情况如下:父母农民，在外</tspan><tspan x="1693" dy="16.2">务工;弟弟上高中;家中还有一位83岁的祖母，</tspan><tspan x="1693" dy="16.2">患有骨质增生症，生活勉强能够自理。父母两</tspan><tspan x="1693" dy="16.2">人的月均九百元的收入是我们家的唯一经济来</tspan><tspan x="1693" dy="16.2">源，维持我们兄弟的读书费用，且他们也都渐</tspan><tspan x="1693" dy="16.2">渐衰老，各种病症接踵而至。我本人确定家庭</tspan><tspan x="1693" dy="16.2">经济困难，实在难以支付高额学费，维持正常</tspan><tspan x="1693" dy="16.2">学业，只好申请生源地国家助学贷款。</tspan></text></g>
<g><rect x="1685" y="5775" width="262" height="207" rx="4"/><text x="1693" y="5793.8"><tspan x="1693"> 对国家助学贷款的了解:助学贷款是由*主导、</tspan><tspan x="1693" dy="16.2">财政贴息、财政和高校共同给予银行一定风险</tspan><tspan x="1693" dy="16.2">补偿金，银行、教育行政部门与高校共同*作</tspan><tspan x="1693" dy="16.2">的，帮助高校经济困难学生支付在校学习期间</tspan><tspan x="1693" dy="16.2">所需的学费、住宿费及生活费的银行贷款。原</tspan><tspan x="1693" dy="16.2">则上每人每学年最高不超过6000元。助学到</tspan><tspan x="1693" dy="16.2">款是信用贷款，学生不需要办理贷款担保或抵</tspan><tspan x="1693" dy="16.2">押，但需要承诺按期还款，并承担相关的法律</tspan><tspan x="1693" dy="16.2">责任。学校学生资助部门负责对学生提交的国</tspan><tspan x="1693" dy="16.2">家助学贷款申请书进行资格审查，并核查学生</tspan><tspan x="1693" dy="16.2">提交材料的真实*和完整*;银行负则最终审批</tspan><tspan x="1693" dy="16.2">学生的贷款申请。</tspan></text></g>
<g><rect x="1685" y="6008" width="262" height="94" rx="4"/><text x="1693" y="6026.8"><tspan x="1693"> 助学贷款实行一次申请、一次授信、分期发</tspan><tspan x="1693" dy="16.2">放的方式。一学年内的生活费贷款，银行(或</tspan><tspan x="1693" dy="16.2">学校)按10个月逐月发放给学生。助学贷款利</tspan><tspan x="1693" dy="16.2">率按照**银行公布的利率和国家有关利率政策</tspan><tspan x="1693" dy="16.2">执行。</tspan></text></g>
</g>

<g id="b2" class="b">
<g><rect x="793" y="1605" width="99" height="29" rx="4"/><text x="801" y="1623.8">中国银行分行：</text></g>
<g><rect x="504" y="1332" width="264" height="45" rx="4"/><text x="512" y="1350.8"><tspan x="512">本人系（单位）人员，现任职务，家庭平均月</tspan><tspan x="512" dy="16.2">收入元，为购买</tspan></text></g>
<g><rect x="504" y="1404" width="264" height="142" rx="4"/><text x="512" y="1422.8"><tspan x="512">（公司）开发的商品住房（商铺）套，房产编</tspan><tspan x="512" dy="16.2">号为，特向贵处申请住房（商铺）按揭贷款万</tspan><tspan x="512" dy="16.2">元，期限年，并同意以所购房产抵押给贵单位</tspan><tspan x="512" dy="16.2">（行），作为偿还与贵单位（行）签定的借款</tspan><tspan x="512" dy="16.2">合同项下借款保证；同意贵单位（行）通过人</tspan><tspan x="512" dy="16.2">民银行个人征信系统查询本人信息，了解本人</tspan><tspan x="512" dy="16.2">资信情况。本着诚实守信的原则，本人申明该</tspan><tspan x="512" dy="16.2">套房产是家庭以贷款所购的第套住房。</tspan></text></g>
<g><rect x="504" y="1573" width="264" height="158" rx="4"/><text x="512" y="1591.8"><tspan x="512">本人按照贵行要求在所在分（支）行开立了还</tspan><tspan x="512" dy="16.2">款帐户，帐号为，并保证在每期还款日和贷款</tspan><tspan x="512" dy="16.2">到期日前足额存入当期还本付息项，同时授权</tspan><tspan x="512" dy="16.2">贷款人于每月还款日和贷款到期日从该帐户中</tspan><tspan x="512" dy="16.2">扣收贷款本息（包括逾期利息及罚息）；如果</tspan><tspan x="512" dy="16.2">更换还款帐户，本人将及时提供新的帐户资料</tspan><tspan x="512" dy="16.2">；如果帐户内资金不足并出现拖欠贷款现象，</tspan><tspan x="512" dy="16.2">本人接受贵单位（行）的所有合法催收措施并</tspan><tspan x="512" dy="16.2">自愿承担一切后果。</tspan></text></g>
<g><rect x="599" y="1757" width="169" height="29" rx="4"/><text x="607" y="1775.8">申请人（签字及手印）：***</text></g>
<g><rect x="617" y="1812" width="151" height="29" rx="4"/><text x="625" y="1830.8">有效身份证号：*********</text></g>
<g><rect x="695" y="1868" width="73" height="29" rx="4"/><text x="703" y="1886.8">**年*月*日</text></g>
</g>

<g id="b4" class="b">
<g><rect x="756" y="2305" width="135" height="29" rx="4"/><text x="764" y="2323.8">XXX县信用合作联社：</text></g>
<g><rect x="628" y="2885" width="263" height="29" rx="4"/><text x="636" y="2903.8">向贵行申请流动资金贷款用于以下几个方面：</text></g>
<g><rect x="829" y="3086" width="62" height="29" rx="4"/><text x="837" y="3104.8">XXX公司</text></g>
<g><rect x="796" y="3141" width="95" height="29" rx="4"/><text x="804" y="3159.8">20XX年X月X日</text></g>
<g><rect x="467" y="1925" width="264" height="61" rx="4"/><text x="475" y="1943.8"><tspan x="475">贵州省XXX有限责任公司（以下简公司）的业</tspan><tspan x="475" dy="16.2">务不断发展壮大，急需增加流动资金，现向贵</tspan><tspan x="475" dy="16.2">社提出贷款申请，望能给予支持。</tspan></text></g>
<g><rect x="619" y="2218" width="112" height="29" rx="4"/><text x="627" y="2236.8">一、公司基本情况</text></g>
<g><rect x="332" y="2014" width="263" height="94" rx="4"/><text x="340" y="2032.8"><tspan x="340">贵州省XXX有限责任公司成立于20XX年6月，</tspan><tspan x="340" dy="16.2">注册资金500万元。办公地点位于XXX，性质</tspan><tspan x="340" dy="16.2">为民营。经营范围：燃气经营、天然气信息化</tspan><tspan x="340" dy="16.2">技术咨询服务、压缩天然气技术咨询服务、普</tspan><tspan x="340" dy="16.2">通机电设备销售。</tspan></text></g>
<g><rect x="332" y="2134" width="263" height="77" rx="4"/><text x="340" y="2152.8"><tspan x="340">20XX年6月，县政府和县招商局指示我公司</tspan><tspan x="340" dy="16.2">要积极申报"燃气特许经营许可证"实施公司经</tspan><tspan x="340" dy="16.2">营资格，我们就主动争取，向上申报，得到贵</tspan><tspan x="340" dy="16.2">州省住建部核准。</tspan></text></g>
<g><rect x="332" y="2238" width="263" height="45" rx="4"/><text x="340" y="2256.8"><tspan x="340">XX公司共有职工28名，其中管理人员8名。</tspan><tspan x="340" dy="16.2">公司设有办公室、财务部、运营部、工程部。</tspan></text></g>
<g><rect x="332" y="2310" width="263" height="191" rx="4"/><text x="340" y="2328.8"><tspan x="340">截止目前，民生公司已投资建立储气站1座，</tspan><tspan x="340" dy="16.2">在全县铺设天然气主管道近万余米，已通过验</tspan><tspan x="340" dy="16.2">收合格并投入使用，现有用户1185户，今年</tspan><tspan x="340" dy="16.2">预计将新增1500户，预计新增的1500户中有</tspan><tspan x="340" dy="16.2">70%正常使用，即20XX年末用气户数达2200</tspan><tspan x="340" dy="16.2">户。20XX年将新增用户2000户，预计80%正</tspan><tspan x="340" dy="16.2">常使用，20XX年年末用户达3800户。2015</tspan><tspan x="340" dy="16.2">年将新增用户3000户，按80%正常使用，20</tspan><tspan x="340" dy="16.2">XX年年末用户将达6200户。20XX年将新增</tspan><tspan x="340" dy="16.2">用户5000户，按90%正常使用，20XX年年末</tspan><tspan x="340" dy="16.2">用户将达11000户。</tspan></text></g>
<g><rect x="580" y="2559" width="151" height="29" rx="4"/><text x="588" y="2577.8">二、公司经营方针及计划</text></g>
<g><rect x="293" y="2526" width="264" height="94" rx="4"/><text x="301" y="2544.8"><tspan x="301">燃气工程的实施体现了政府得民心，居民得实</tspan><tspan x="301" dy="16.2">惠，公司得市场。能够切实解决居民用其他能</tspan><tspan x="301" dy="16.2">源"不安全、不方便、不实惠"的问题。把现代</tspan><tspan x="301" dy="16.2">环保理念引入道真，为XX社会发展建设做出</tspan><tspan x="301" dy="16.2">应有的贡献。</tspan></text></g>
<g><rect x="631" y="2670" width="100" height="29" rx="4"/><text x="639" y="2688.8">三、申请贷款额</text></g>
<g><rect x="344" y="2647" width="263" height="77" rx="4"/><text x="352" y="2665.8"><tspan x="352">根据公司目前发展需求和今后一段时间的发展</tspan><tspan x="352" dy="16.2">趋势，经测算，共需流动资金2000万元，其</tspan><tspan x="352" dy="16.2">中向贵社贷款1200万元，股东投入800万元</tspan><tspan x="352" dy="16.2">。</tspan></text></g>
<g><rect x="341" y="2750" width="263" height="77" rx="4"/><text x="349" y="2768.8"><tspan x="349">1、CNG汽车加气站1座，汽车加气站加气箱4</tspan><tspan x="349" dy="16.2">个及气箱附属设施。总投资680万元，其中公</tspan><tspan x="349" dy="16.2">司自筹280万元，向贵行申请流动资金贷款40</tspan><tspan x="349" dy="16.2">0元。</tspan></text></g>
<g><rect x="341" y="2854" width="263" height="61" rx="4"/><text x="349" y="2872.8"><tspan x="349">2、储气站1个及储气站附属设施建设。总投</tspan><tspan x="349" dy="16.2">资360万元，其中公司自筹160万元，向贵行</tspan><tspan x="349" dy="16.2">申请流动资金贷款200万元。</tspan></text></g>
<g><rect x="341" y="2980" width="263" height="61" rx="4"/><text x="349" y="2998.8"><tspan x="349">3、公司办公楼。总投资640万元，其中公司</tspan><tspan x="349" dy="16.2">自筹240万元，向贵行申请流动资金贷款400</tspan><tspan x="349" dy="16.2">万元。</tspan></text></g>
<g><rect x="54" y="2941" width="263" height="61" rx="4"/><text x="62" y="2959.8"><tspan x="62">上述贷款合计1200万元，贷款期限5年，若贷</tspan><tspan x="62" dy="16.2">款到期， 我公司保证以公司初装费和燃气收</tspan><tspan x="62" dy="16.2">入及固定资产投资收回按期偿还。</tspan></text></g>
<g><rect x="242" y="3035" width="75" height="29" rx="4"/><text x="250" y="3053.8">特此申请!</text></g>
</g>

<g id="b6" class="b">
<g><rect x="805" y="3503" width="87" height="29" rx="4"/><text x="813" y="3521.8">尊敬的领导：</text></g>
<g><rect x="517" y="3199" width="264" height="288" rx="4"/><text x="525" y="3217.8"><tspan x="525">我是xx学院中文系11级的贫困学生，来自九</tspan><tspan x="525" dy="16.2">江市的一个偏僻农村。现家有6人，爷爷、奶</tspan><tspan x="525" dy="16.2">奶、爸爸、妈妈、妹妹和我。爷爷、奶奶年老</tspan><tspan x="525" dy="16.2">在家，妹妹在县城读高中，爸爸妈妈在家务农</tspan><tspan x="525" dy="16.2">，且妈妈体弱多病，全家的开支主要靠农作物</tspan><tspan x="525" dy="16.2">。由于家乡田少人多，加上去年又遇洪水，农</tspan><tspan x="525" dy="16.2">作物欠收，全家人均收入不足400元。我进大</tspan><tspan x="525" dy="16.2">学时的学费大部分是靠亲戚朋友借来的，今年</tspan><tspan x="525" dy="16.2">要把学费交齐就更加困难了。为了不因经济困</tspan><tspan x="525" dy="16.2">难而影响自己的学业，能及时、足额地把所欠</tspan><tspan x="525" dy="16.2">学费交清，于是，我特向贵社提出助学贷款。</tspan><tspan x="525" dy="16.2">我借款的额度是6000元，计划毕业后4年内还</tspan><tspan x="525" dy="16.2">清本息。我父母也同意我贷款，并同意承担连</tspan><tspan x="525" dy="16.2">带保证责任。贷款后，我保证履行还贷义务，</tspan><tspan x="525" dy="16.2">按时归还贷款本息。同时，继续努力学习，争</tspan><tspan x="525" dy="16.2">取以优良的成绩来回报省农村信用社对我的关</tspan><tspan x="525" dy="16.2">心和扶持。望省农村信用社批准为盼。</tspan></text></g>
<g><rect x="700" y="3511" width="81" height="29" rx="4"/><text x="708" y="3529.8">申请人：xxx</text></g>
<g><rect x="656" y="3567" width="125" height="29" rx="4"/><text x="664" y="3585.8">日期：xx年xx月xx日</text></g>
<g><rect x="578" y="3623" width="203" height="29" rx="4"/><text x="586" y="3641.8">助学贷款申请书范文5篇（扩展3）</text></g>
<g><rect x="609" y="3678" width="172" height="29" rx="4"/><text x="617" y="3696.8">——银行助学贷款申请书5篇</text></g>
</g>

<g id="b8" class="b">
<g><rect x="780" y="4108" width="112" height="29" rx="4"/><text x="788" y="4126.8">尊敬的各级领导：</text></g>
<g><rect x="493" y="3735" width="263" height="418" rx="4"/><text x="501" y="3753.8"><tspan x="501">我在本村投资养鸡已经两个多月，如今第一栏</tspan><tspan x="501" dy="16.2">鸡(1500只)这几天就要出栏，第二栏小鸡(15</tspan><tspan x="501" dy="16.2">00只)已经有14天，到现在本养殖场所投资金</tspan><tspan x="501" dy="16.2">已超过七万，可是还差部分建设没有完成，而</tspan><tspan x="501" dy="16.2">资金来源已经没有了，同时我想进一步扩大养</tspan><tspan x="501" dy="16.2">殖规模，因此非常希望能得到政府扶持，以解</tspan><tspan x="501" dy="16.2">决资金困难.但由于我在县里和乡里都没有熟</tspan><tspan x="501" dy="16.2">人，不知道政府贴息贷款在9至10月份是否有</tspan><tspan x="501" dy="16.2">?有多少?对于没背景的人是否能申请到?申请</tspan><tspan x="501" dy="16.2">方法有哪些?最多能申请多少?(因为3万元只能</tspan><tspan x="501" dy="16.2">建1000只肉鸡的鸡舍及买小鸡和饲料，所以</tspan><tspan x="501" dy="16.2">我希望能多申请到一点，以早日达到大规模养</tspan><tspan x="501" dy="16.2">殖，如果政府能关注我们，请帮把我们的情况</tspan><tspan x="501" dy="16.2">向农业局和畜牧局及相关管理机构反映一下，</tspan><tspan x="501" dy="16.2">关于种植和养殖的扶贫资金与其拿给部分人挂</tspan><tspan x="501" dy="16.2">羊头卖狗肉倒不如给真正想干事的人做点事，</tspan><tspan x="501" dy="16.2">因为我们的技术人员已经有7年家禽养殖经验</tspan><tspan x="501" dy="16.2">，从浙江到贵阳，都一直是为养殖场做技术，</tspan><tspan x="501" dy="16.2">为了能致富同时为家乡建设做点事，他决定回</tspan><tspan x="501" dy="16.2">家自己养殖，所以我们的肉鸡死亡率到出栏一</tspan><tspan x="501" dy="16.2">直控制在以内，只是苦于没有充足资金，希望</tspan><tspan x="501" dy="16.2">这封信能遇见个有远见的政府领导，能真正为</tspan><tspan x="501" dy="16.2">百姓做点事的好领导，如果能为我们争取到一</tspan><tspan x="501" dy="16.2">点资金我们将会感激各们领导，为此我特向各</tspan><tspan x="501" dy="16.2">位领导致以最真诚的谢意，</tspan></text></g>
<g><rect x="686" y="4178" width="70" height="29" rx="4"/><text x="694" y="4196.8">谢谢!谢谢!</text></g>
<g><rect x="676" y="4233" width="80" height="29" rx="4"/><text x="684" y="4251.8">申请人：__</text></g>
<g><rect x="657" y="4289" width="99" height="29" rx="4"/><text x="665" y="4307.8">20_年_月_日</text></g>
</g>

<g id="b10" class="b">
<g><rect x="826" y="4731" width="66" height="29" rx="4"/><text x="834" y="4749.8">XX银行：</text></g>
<g><rect x="539" y="4344" width="263" height="77" rx="4"/><text x="547" y="4362.8"><tspan x="547">本公司是贵行的忠实客户，也是贵行的重点扶</tspan><tspan x="547" dy="16.2">持对象，长年来信用良好。多年来一直从事加</tspan><tspan x="547" dy="16.2">工，经营业绩良好，从商经验丰厚，现流动资</tspan><tspan x="547" dy="16.2">金达X万元。</tspan></text></g>
<g><rect x="539" y="4450" width="263" height="77" rx="4"/><text x="547" y="4468.8"><tspan x="547">经XX县县政府对产业的多年大力扶持，和国</tspan><tspan x="547" dy="16.2">家产业政策支持，并有少数民族特需用品企业</tspan><tspan x="547" dy="16.2">的优惠政策，使得作为XX县的支柱产业之一</tspan><tspan x="547" dy="16.2">的XX企业，给带来巨大发展。</tspan></text></g>
<g><rect x="539" y="4553" width="263" height="94" rx="4"/><text x="547" y="4571.8"><tspan x="547">因此，要继续抓住机遇，扩大商机，就需要扩</tspan><tspan x="547" dy="16.2">大再生产。这需要强有力的资金保证作后盾，</tspan><tspan x="547" dy="16.2">就需要金融部门的大力支持，为此本公司需贷</tspan><tspan x="547" dy="16.2">款X万元，作为补充流动资金，望贵行给予批</tspan><tspan x="547" dy="16.2">准。</tspan></text></g>
<g><rect x="539" y="4673" width="263" height="158" rx="4"/><text x="547" y="4691.8"><tspan x="547">由于公司经营状况良好，管理能力较强，营运</tspan><tspan x="547" dy="16.2">能力和盈利能力较强，信誉度高，发展前景可</tspan><tspan x="547" dy="16.2">观，为了扩大经营规模，做大做强企业，但企</tspan><tspan x="547" dy="16.2">业流动资金不足，现向贵行申请贷款作为流动</tspan><tspan x="547" dy="16.2">资金短期贷款，由于公司经营项目好，效益可</tspan><tspan x="547" dy="16.2">佳，具有充足的销售收入和现金流入，公司承</tspan><tspan x="547" dy="16.2">诺，一定用公司的销售收入和现金流入按期偿</tspan><tspan x="547" dy="16.2">还贵行贷款和利息，以此保证贵行贷款的安全</tspan><tspan x="547" dy="16.2">性。</tspan></text></g>
<g><rect x="689" y="5090" width="113" height="29" rx="4"/><text x="697" y="5108.8">一、企业基本情况</text></g>
<g><rect x="403" y="4858" width="263" height="110" rx="4"/><text x="411" y="4876.8"><tspan x="411">XX公司成立于XX年。在工业园占地X亩，建筑</tspan><tspan x="411" dy="16.2">面积X平方米，机器台(套)，生产线X条。公</tspan><tspan x="411" dy="16.2">司被xx确定为少数民族用品定点生产企业、</tspan><tspan x="411" dy="16.2">已成为XX县产业的优势骨干企业和"2321"</tspan><tspan x="411" dy="16.2">人才实训基地。本公司经营稳健，具有先进的</tspan><tspan x="411" dy="16.2">管理理念和较高的管理水平。</tspan></text></g>
<g><rect x="526" y="5284" width="140" height="29" rx="4"/><text x="534" y="5302.8">公司贷款申请书范文一</text></g>
<g><rect x="241" y="4993" width="263" height="45" rx="4"/><text x="249" y="5011.8"><tspan x="249">XX有限责任公司成立于XX年，至今已有多年</tspan><tspan x="249" dy="16.2">的发展历史。</tspan></text></g>
<g><rect x="241" y="5065" width="263" height="239" rx="4"/><text x="249" y="5083.8"><tspan x="249">本公司是专业生产**产品的企业，公司**年</tspan><tspan x="249" dy="16.2">通过了ISO9001：2000国际质量体系认证</tspan><tspan x="249" dy="16.2">，严格科学的质量管理体系确保了公司能</tspan><tspan x="249" dy="16.2">够为用户提供优质的产品和服务，并不断创新</tspan><tspan x="249" dy="16.2">。产品广泛用于重点工程和交通枢纽(机场\港</tspan><tspan x="249" dy="16.2">口\车站)等领域，公司的发展壮大有利于国</tspan><tspan x="249" dy="16.2">民经济发展。公司已取得生产许可证，生产</tspan><tspan x="249" dy="16.2">的产品质量稳定，技术先进，广泛用于行业。</tspan><tspan x="249" dy="16.2">目前产品畅销全国，呈现出供不应求的局</tspan><tspan x="249" dy="16.2">面，经济效益逐年提高。公司现有员工*</tspan><tspan x="249" dy="16.2">人，其中技术人员*人，公司占地**余亩，注册</tspan><tspan x="249" dy="16.2">资金**万元，资产总额**万元，年销售收入可</tspan><tspan x="249" dy="16.2">达**万元。当前，公司即将进入新一轮快</tspan><tspan x="249" dy="16.2">速发展时期。</tspan></text></g>
<g><rect x="241" y="5331" width="263" height="142" rx="4"/><text x="249" y="5349.8"><tspan x="249">当前，国家政策为公司带来难得的发展机遇。</tspan><tspan x="249" dy="16.2">公司拟进行生产线升级和设备技术改造，扩</tspan><tspan x="249" dy="16.2">大生产规模，以满足市场需求。今年主</tspan><tspan x="249" dy="16.2">要完成厂房建设和设备安装，预计**年下</tspan><tspan x="249" dy="16.2">半年正式投产，投产后年新增销售收入**万</tspan><tspan x="249" dy="16.2">元，新增利税**万元，经济效益和社会效益</tspan><tspan x="249" dy="16.2">显著。由于项目投资较大，公司自有资金不</tspan><tspan x="249" dy="16.2">足，尚有资金缺口**万元。</tspan></text></g>
<g><rect x="241" y="5500" width="263" height="158" rx="4"/><text x="249" y="5518.8"><tspan x="249">为此，特向贵行申请流动资金贷款**万元，期</tspan><tspan x="249" dy="16.2">限*年，用于购买原材料及补充生产经营所需</tspan><tspan x="249" dy="16.2">资金。公司承诺按期归还贷款本息，并以公司</tspan><tspan x="249" dy="16.2">现有的厂房、土地及机器设备作为抵押担保。</tspan><tspan x="249" dy="16.2">公司财务制度健全，经营管理规范，销售渠道</tspan><tspan x="249" dy="16.2">畅通，现金流充足，具备较强的还款能力。公</tspan><tspan x="249" dy="16.2">司将严格按照借款合同的约定使用贷款，自觉</tspan><tspan x="249" dy="16.2">接受贵行的监督和检查。恳请贵行给予支持为</tspan><tspan x="249" dy="16.2">盼。</tspan></text></g>
</g>

<g id="watermarks" class="wm">
<text transform="translate(1623,690) rotate(-30)">树图 shutu.cn</text>
<text transform="translate(1623,1655) rotate(-30)">树图 shutu.cn</text>
<text transform="translate(1623,2656) rotate(-30)">树图 shutu.cn</text>
<text transform="translate(1623,3674) rotate(-30)">树图 shutu.cn</text>
<text transform="translate(1623,4710) rotate(-30)">树图 shutu.cn</text>
<text transform="translate(1623,5730) rotate(-30)">树图 shutu.cn</text>
<text transform="translate(350,718) rotate(-30)">树图 shutu.cn</text>
<text transform="translate(350,1700) rotate(-30)">树图 shutu.cn</text>
<text transform="translate(350,2680) rotate(-30)">树图 shutu.cn</text>
<text transform="translate(350,3680) rotate(-30)">树图 shutu.cn</text>
<text transform="translate(350,4690) rotate(-30)">树图 shutu.cn</text>
<text transform="translate(350,5680) rotate(-30)">树图 shutu.cn</text>
</g>
</g>
</svg>
